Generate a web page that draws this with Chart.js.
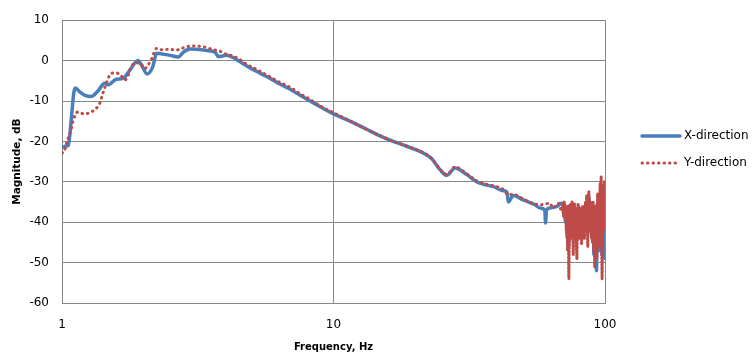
<!DOCTYPE html>
<html>
<head>
<meta charset="utf-8">
<script src="https://cdn.jsdelivr.net/npm/chart.js@4"></script>
<style>
  html, body { margin: 0; padding: 0; background: #fff; }
  #wrap { width: 752px; height: 359px; }
</style>
</head>
<body>
<div id="wrap"><canvas id="magChart" width="752" height="359"></canvas></div>
<script>
// X-direction (blue) : frequency (Hz) and magnitude (dB)
const xFreq = [1.00, 1.03, 1.055, 1.07, 1.09, 1.105, 1.12, 1.165, 1.215, 1.28, 1.357, 1.436, 1.477, 1.585, 1.678, 1.776, 1.905, 1.96, 2.06, 2.16, 2.23, 2.35, 2.50, 2.68, 2.80, 2.96, 3.13, 3.41, 3.66, 3.77, 4.04, 4.28, 4.53, 4.93, 5.36, 5.84, 6.35, 6.92, 7.53, 8.20, 10.0, 11.5, 13.25, 15.26, 16.61, 18.61, 21.73, 23.0, 24.68, 26.12, 28.03, 30.95, 33.69, 35.62, 38.79, 42.21, 43.5, 44.04, 45.94, 50.02, 55.24, 57.63, 60.0, 60.4, 60.9, 62.72, 66.4, 69.3,
  70.0, 70.5, 71.0, 71.5, 72.0, 72.5, 73.0, 73.5, 74.0, 74.5, 75.0, 75.5, 76.0, 76.5, 77.0, 77.5, 78.0, 78.5, 79.0, 79.5, 80.0, 80.5, 81.0, 81.5, 82.0, 82.5, 83.0, 83.5, 84.0, 84.5, 85.0, 85.5, 86.0, 86.5, 87.0, 87.5, 88.0, 88.5, 89.0, 89.5, 90.0, 90.5, 91.0, 91.5, 92.0, 92.5, 93.0, 93.5, 94.0, 94.5, 95.0, 95.5, 96.0, 96.5, 97.0, 97.5, 98.0, 98.5, 99.0, 99.5, 100.0];
const xMag = [-21.5, -21.2, -21.0, -18.0, -12.0, -8.0, -6.8, -7.8, -8.6, -8.9, -7.5, -5.6, -6.0, -4.6, -4.4, -2.4, 0.0, -1.0, -3.3, -1.5, 1.8, 1.6, 1.3, 0.9, 2.1, 2.9, 2.8, 2.5, 2.1, 1.0, 1.3, 0.7, -0.3, -1.8, -3.1, -4.4, -5.8, -7.1, -8.6, -10.0, -13.2, -15.0, -17.0, -19.0, -20.0, -21.2, -23.1, -24.3, -27.0, -28.4, -26.6, -28.2, -30.0, -30.6, -31.2, -32.2, -32.5, -35.0, -33.4, -34.5, -35.7, -36.5, -37.0, -40.2, -37.0, -36.5, -36.1, -35.3,
  -36.0, -38.5, -35.5, -40.0, -37.0, -44.0, -38.0, -46.0, -39.0, -36.0, -42.0, -37.0, -44.0, -39.0, -36.5, -41.0, -38.0, -45.0, -40.0, -36.5, -40.0, -43.0, -37.5, -42.0, -38.5, -44.0, -39.0, -36.5, -42.0, -38.0, -36.0, -40.0, -35.0, -43.0, -37.0, -34.0, -40.0, -36.5, -42.0, -38.0, -45.0, -39.0, -48.0, -42.0, -38.0, -47.0, -52.0, -44.0, -37.0, -42.0, -39.0, -47.0, -37.0, -33.0, -42.0, -48.0, -40.0, -35.0, -43.0, -47.0, -49.0];

// Y-direction (red, dotted)
const yFreq = [1.00, 1.011, 1.046, 1.077, 1.098, 1.145, 1.205, 1.265, 1.327, 1.377, 1.416, 1.456, 1.499, 1.572, 1.645, 1.702, 1.740, 1.800, 1.878, 1.933, 2.016, 2.074, 2.133, 2.229, 2.321, 2.493, 2.637, 2.751, 2.978, 3.270, 3.608, 3.797, 3.985, 4.217, 4.461, 4.789, 5.214, 5.753, 6.262, 6.916, 7.528, 8.195, 8.918, 10.57, 12.18, 14.43, 16.15, 18.61, 21.73, 23.0, 24.68, 26.12, 28.03, 30.95, 33.69, 35.62, 38.79, 42.21, 44.04, 45.94, 50.02, 55.24, 57.63, 60.12, 62.72, 64.3, 67.5, 69.3,
  70.0, 70.2, 70.4, 70.6, 70.8, 71.0, 71.2, 71.4, 71.6, 71.8,
  72.0, 72.2, 72.4, 72.6, 72.8, 73.0, 73.2, 73.4, 73.6, 73.8,
  74.0, 74.2, 74.4, 74.6, 74.8, 75.0, 75.2, 75.4, 75.6, 75.8,
  76.0, 76.2, 76.4, 76.6, 76.8, 77.0, 77.2, 77.4, 77.6, 77.8,
  78.0, 78.2, 78.4, 78.6, 78.8, 79.0, 79.2, 79.4, 79.6, 79.8,
  80.0, 80.2, 80.4, 80.6, 80.8, 81.0, 81.2, 81.4, 81.6, 81.8,
  82.0, 82.2, 82.4, 82.6, 82.8, 83.0, 83.2, 83.4, 83.6, 83.8,
  84.0, 84.2, 84.4, 84.6, 84.8, 85.0, 85.2, 85.4, 85.6, 85.8,
  86.0, 86.2, 86.4, 86.6, 86.8, 87.0, 87.2, 87.4, 87.6, 87.8,
  88.0, 88.2, 88.4, 88.6, 88.8, 89.0, 89.2, 89.4, 89.6, 89.8,
  90.0, 90.2, 90.4, 90.6, 90.8, 91.0, 91.2, 91.4, 91.6, 91.8,
  92.0, 92.2, 92.4, 92.6, 92.8, 93.0, 93.2, 93.4, 93.6, 93.8,
  94.0, 94.2, 94.4, 94.6, 94.8, 95.0, 95.2, 95.4, 95.6, 95.8,
  96.0, 96.2, 96.4, 96.6, 96.8, 97.0, 97.2, 97.4, 97.6, 97.8,
  98.0, 98.2, 98.4, 98.6, 98.8, 99.0, 99.2, 99.4, 99.6, 99.8, 100.0];
const yMag = [-22.8, -22.8, -19.8, -17.4, -15.0, -12.7, -13.2, -12.9, -12.0, -10.6, -8.0, -5.6, -3.6, -3.0, -3.6, -4.8, -4.2, -1.5, -0.6, -0.6, -2.0, -1.1, 0.2, 3.0, 2.7, 2.8, 2.6, 3.0, 3.6, 3.5, 2.7, 2.4, 1.7, 1.2, 0.5, -0.9, -2.2, -3.8, -5.2, -6.6, -8.2, -9.6, -11.2, -13.7, -15.8, -18.2, -19.7, -21.2, -23.0, -24.2, -26.9, -28.2, -26.3, -28.0, -29.8, -30.4, -31.0, -31.9, -33.2, -33.1, -34.3, -35.5, -35.7, -35.5, -35.3, -36.5, -35.3, -37.3,
  -35.5, -37.0, -38.5, -36.0, -35.0, -37.5, -39.0, -36.5, -36.0, -38.0,
  -42.0, -39.0, -37.0, -41.0, -47.0, -40.0, -36.0, -45.0, -54.0, -44.0,
  -40.0, -37.0, -35.5, -39.0, -44.0, -40.0, -37.0, -36.0, -35.0, -38.0,
  -42.0, -45.0, -48.0, -41.0, -38.0, -36.0, -35.5, -39.0, -43.0, -38.0,
  -36.5, -40.0, -45.0, -47.0, -49.0, -43.0, -40.0, -37.0, -35.5, -36.5,
  -38.0, -41.0, -44.0, -39.0, -36.5, -38.0, -41.0, -39.0, -37.0, -40.0,
  -45.5, -42.0, -40.0, -37.0, -36.0, -39.0, -42.0, -40.0, -37.5, -39.0,
  -44.0, -41.0, -38.0, -36.0, -35.0, -37.0, -40.0, -36.0, -33.5, -35.0,
  -38.0, -42.0, -46.0, -40.0, -36.0, -34.0, -32.5, -35.0, -39.0, -40.0,
  -42.0, -38.0, -35.0, -36.0, -37.5, -41.0, -44.0, -40.0, -36.5, -38.0,
  -40.0, -37.0, -35.0, -41.0, -47.0, -42.0, -38.0, -44.0, -51.0, -45.0,
  -41.0, -38.0, -36.0, -40.0, -44.0, -47.0, -49.0, -43.0, -38.0, -35.0,
  -33.0, -37.0, -41.0, -39.0, -37.0, -42.0, -46.0, -40.0, -36.0, -33.0,
  -30.5, -35.0, -40.0, -34.0, -28.8, -36.0, -44.0, -50.0, -54.0, -45.0,
  -36.0, -33.0, -31.0, -36.0, -42.0, -38.0, -34.0, -31.0, -30.0, -33.0, -37.0];

const xTicks = [1, 10, 100];
const seriesNames = ["X-direction", "Y-direction"];

const gridColor = "#878787";
const fontFamily = "'DejaVu Sans', Verdana, sans-serif";
const redDots = [0.5, 5];

function toPoints(freq, mag) {
    return freq.map((f, i) => ({ x: f, y: mag[i] }));
}

// legend drawn at the right, excel style
const sideLegend = {
    id: "sideLegend",
    afterDraw(chart) {
        const ctx = chart.ctx;
        chart.data.datasets.forEach((ds, i) => {
            const y = 136 + i * 27;
            ctx.save();
            ctx.strokeStyle = ds.borderColor;
            ctx.lineWidth = ds.borderWidth;
            ctx.lineCap = ds.borderCapStyle || "butt";
            ctx.setLineDash(ds.borderDash || []);
            ctx.beginPath();
            ctx.moveTo(642, y);
            ctx.lineTo(680, y);
            ctx.stroke();
            ctx.setLineDash([]);
            ctx.fillStyle = "#000";
            ctx.font = "12px " + fontFamily;
            ctx.textBaseline = "middle";
            ctx.fillText(ds.label, 684, y);
            ctx.restore();
        });
    }
};

new Chart(document.getElementById("magChart"), {
    type: "line",
    data: {
        datasets: [
            {
                label: seriesNames[0],
                data: toPoints(xFreq, xMag),
                borderColor: "#4a7ebb",
                borderWidth: 3.5,
                borderCapStyle: "round",
                pointRadius: 0,
                cubicInterpolationMode: "monotone",
                order: 1
            },
            {
                label: seriesNames[1],
                data: toPoints(yFreq, yMag),
                borderColor: "#be4b48",
                borderWidth: 3,
                borderDash: redDots,
                borderCapStyle: "round",
                pointRadius: 0,
                cubicInterpolationMode: "monotone",
                // the noisy tail is so dense the dots merge together
                segment: {
                    borderDash: (c) => c.p0.parsed.x >= 70 ? [1.5, 2] : redDots
                },
                order: 0
            }
        ]
    },
    options: {
        responsive: false,
        animation: false,
        layout: { padding: { left: 0, right: 147, top: 16, bottom: 0 } },
        plugins: {
            legend: { display: false },
            tooltip: { enabled: false }
        },
        scales: {
            x: {
                type: "logarithmic",
                min: 1,
                max: 100,
                afterBuildTicks: (scale) => { scale.ticks = xTicks.map(v => ({ value: v })); },
                afterFit: (scale) => { scale.height = 56; },
                grid: { color: gridColor, drawTicks: false },
                border: { color: gridColor },
                ticks: {
                    padding: 15,
                    maxRotation: 0,
                    color: "#000",
                    font: { family: fontFamily, size: 12 },
                    callback: (v) => String(v)
                },
                title: {
                    display: true,
                    text: "Frequency, Hz",
                    color: "#000",
                    font: { family: fontFamily, size: 10, weight: "bold" },
                    padding: { top: 0, bottom: 6 }
                }
            },
            y: {
                min: -60,
                max: 10,
                afterFit: (scale) => { scale.width = 62; },
                grid: { color: gridColor, drawTicks: false },
                border: { color: gridColor },
                ticks: {
                    stepSize: 10,
                    padding: 13,
                    color: "#000",
                    font: { family: fontFamily, size: 12 }
                },
                title: {
                    display: true,
                    text: "Magnitude, dB",
                    color: "#000",
                    font: { family: fontFamily, size: 10.5, weight: "bold" },
                    padding: { top: 11, bottom: 0 }
                }
            }
        }
    },
    plugins: [sideLegend]
});
</script>
</body>
</html>
